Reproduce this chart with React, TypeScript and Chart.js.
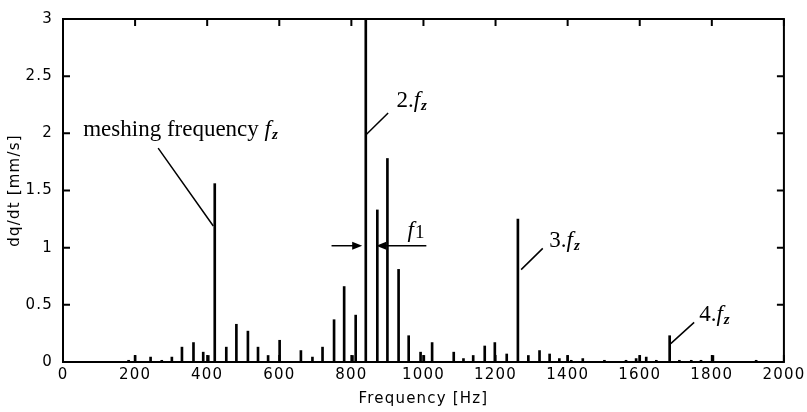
import React, { useEffect, useRef } from "react";
import { Chart, registerables } from "chart.js";

Chart.register(...registerables);

// ---- data ----
const freqHz = [
  182, 200, 243, 274, 302, 330, 362, 389, 403, 421, 453, 481, 513, 541, 569, 601,
  660, 692, 720, 752, 780, 803, 812, 840, 872, 900, 931, 959, 992, 1001, 1024,
  1084, 1111, 1138, 1170, 1198, 1231, 1262, 1291, 1322, 1350, 1377, 1400, 1410,
  1442, 1502, 1562, 1590, 1600, 1618, 1646, 1683, 1710, 1743, 1770, 1803, 1923,
];
const amplitude = [
  0.015, 0.057, 0.043, 0.015, 0.043, 0.13, 0.17, 0.086, 0.057, 1.56, 0.13, 0.33, 0.27, 0.13, 0.057, 0.19,
  0.1, 0.043, 0.13, 0.37, 0.66, 0.057, 0.41, 3.0, 1.33, 1.78, 0.81, 0.23, 0.086, 0.057, 0.17,
  0.086, 0.03, 0.057, 0.14, 0.17, 0.07, 1.25, 0.057, 0.1, 0.07, 0.03, 0.057, 0.015,
  0.03, 0.015, 0.015, 0.03, 0.057, 0.043, 0.015, 0.23, 0.015, 0.015, 0.015, 0.057, 0.015,
];

const xMin = 0;
const xMax = 2000;
const xStep = 200;
const yMin = 0;
const yMax = 3;
const yStep = 0.5;
const xTitle = "Frequency [Hz]";
const yTitle = "dq/dt [mm/s]";

// annotation texts, anchored in data units (x in Hz, y in mm/s)
type Part = { t: string; s: "n" | "i" | "sub" | "num" };
const annoTexts: { x: number; y: number; parts: Part[] }[] = [
  { x: 56, y: 1.974, parts: [{ t: "meshing frequency ", s: "n" }, { t: "f", s: "i" }, { t: "z", s: "sub" }] },
  { x: 925, y: 2.233, parts: [{ t: "2.", s: "n" }, { t: "f", s: "i" }, { t: "z", s: "sub" }] },
  { x: 956, y: 1.095, parts: [{ t: "f", s: "i" }, { t: "1", s: "num" }] },
  { x: 1349, y: 1.009, parts: [{ t: "3.", s: "n" }, { t: "f", s: "i" }, { t: "z", s: "sub" }] },
  { x: 1765, y: 0.362, parts: [{ t: "4.", s: "n" }, { t: "f", s: "i" }, { t: "z", s: "sub" }] },
];
const leaderLines = [
  { x1: 264, y1: 1.871, x2: 417, y2: 1.19 },
  { x1: 902, y1: 2.178, x2: 840, y2: 1.985 },
  { x1: 1331, y1: 0.994, x2: 1271, y2: 0.808 },
  { x1: 1751, y1: 0.347, x2: 1686, y2: 0.161 },
];
const arrowLines = [
  { x1: 745, y1: 1.017, x2: 830, y2: 1.017 },
  { x1: 1008, y1: 1.017, x2: 869, y2: 1.017 },
];

const SERIF = '"Liberation Serif", "Times New Roman", serif';
const SANS = '"DejaVu Sans", Arial, sans-serif';

const framePlugin = {
  id: "frameAndAnnotations",
  beforeDraw(chart: any) {
    chart.ctx.letterSpacing = "1.2px";
  },
  afterDraw(chart: any) {
    const ctx = chart.ctx as CanvasRenderingContext2D;
    const { left, right, top, bottom } = chart.chartArea;
    const xs = chart.scales.x;
    const ys = chart.scales.y;
    ctx.save();
    (ctx as any).letterSpacing = "0px";
    ctx.strokeStyle = "#000";
    ctx.fillStyle = "#000";
    ctx.lineWidth = 2;
    ctx.strokeRect(left, top, right - left, bottom - top);
    const tl = 7;
    ctx.beginPath();
    xs.ticks.forEach((t: any) => {
      const px = xs.getPixelForValue(t.value);
      ctx.moveTo(px, bottom);
      ctx.lineTo(px, bottom - tl);
      ctx.moveTo(px, top);
      ctx.lineTo(px, top + tl);
    });
    ys.ticks.forEach((t: any) => {
      const py = ys.getPixelForValue(t.value);
      ctx.moveTo(left, py);
      ctx.lineTo(left + tl, py);
      ctx.moveTo(right, py);
      ctx.lineTo(right - tl, py);
    });
    ctx.stroke();

    // leader lines
    ctx.lineWidth = 1.5;
    ctx.beginPath();
    leaderLines.forEach((l) => {
      ctx.moveTo(xs.getPixelForValue(l.x1), ys.getPixelForValue(l.y1));
      ctx.lineTo(xs.getPixelForValue(l.x2), ys.getPixelForValue(l.y2));
    });
    ctx.stroke();

    // arrows
    arrowLines.forEach((a) => {
      const x1 = xs.getPixelForValue(a.x1);
      const y1 = ys.getPixelForValue(a.y1);
      const x2 = xs.getPixelForValue(a.x2);
      const y2 = ys.getPixelForValue(a.y2);
      const dir = Math.sign(x2 - x1);
      ctx.beginPath();
      ctx.moveTo(x1, y1);
      ctx.lineTo(x2 - dir * 6, y2);
      ctx.stroke();
      ctx.beginPath();
      ctx.moveTo(x2, y2);
      ctx.lineTo(x2 - dir * 10, y2 - 4);
      ctx.lineTo(x2 - dir * 10, y2 + 4);
      ctx.closePath();
      ctx.fill();
    });

    // texts
    ctx.textBaseline = "alphabetic";
    ctx.textAlign = "left";
    annoTexts.forEach((a) => {
      let cx = xs.getPixelForValue(a.x);
      const by = ys.getPixelForValue(a.y);
      a.parts.forEach((p) => {
        let dy = 0;
        if (p.s === "n") ctx.font = `23px ${SERIF}`;
        else if (p.s === "i") ctx.font = `italic 23px ${SERIF}`;
        else if (p.s === "sub") {
          ctx.font = `italic bold 15px ${SERIF}`;
          dy = 3;
          cx += 1;
        } else {
          ctx.font = `19px ${SERIF}`;
          dy = 1;
          cx += 1;
        }
        ctx.fillText(p.t, cx, by + dy);
        cx += ctx.measureText(p.t).width;
      });
    });
    ctx.restore();
  },
};

export default function App() {
  const ref = useRef<HTMLCanvasElement | null>(null);
  useEffect(() => {
    if (!ref.current) return;
    const data = freqHz.map((f, i) => ({ x: f, y: amplitude[i] }));
    const chart = new Chart(ref.current, {
      type: "bar",
      data: {
        datasets: [
          {
            data: data as any,
            backgroundColor: "#000",
            borderWidth: 0,
            barThickness: 2,
            grouped: false,
          } as any,
        ],
      },
      options: {
        animation: false,
        responsive: true,
        maintainAspectRatio: false,
        layout: { padding: { top: 14, right: 22, left: 0, bottom: 0 } },
        plugins: { legend: { display: false }, tooltip: { enabled: false } },
        scales: {
          x: {
            type: "linear",
            min: xMin,
            max: xMax,
            offset: false,
            ticks: {
              stepSize: xStep,
              color: "#000",
              padding: 4,
              maxRotation: 0,
              autoSkip: false,
              font: { family: SANS, size: 15 },
              callback: (v: any) => String(v),
            },
            grid: { display: false, drawTicks: false, offset: false },
            border: { display: false },
            title: {
              display: true,
              text: xTitle,
              color: "#000",
              font: { family: SANS, size: 15 },
              padding: { top: 0, bottom: 4 },
            },
            afterFit: (s: any) => {
              s.height = 50;
            },
          },
          y: {
            min: yMin,
            max: yMax,
            ticks: {
              stepSize: yStep,
              color: "#000",
              padding: 10,
              font: { family: SANS, size: 15 },
              callback: (v: any) => String(v),
            },
            grid: { display: false, drawTicks: false },
            border: { display: false },
            title: {
              display: true,
              text: yTitle,
              color: "#000",
              font: { family: SANS, size: 15 },
              padding: { top: 6, bottom: 0 },
            },
            afterFit: (s: any) => {
              s.width = 63;
            },
          },
        },
      } as any,
      plugins: [framePlugin],
    });
    return () => chart.destroy();
  }, []);
  return (
    <div style={{ position: "absolute", left: 0, top: 0, width: 807, height: 412, background: "#fff" }}>
      <canvas ref={ref} />
    </div>
  );
}
